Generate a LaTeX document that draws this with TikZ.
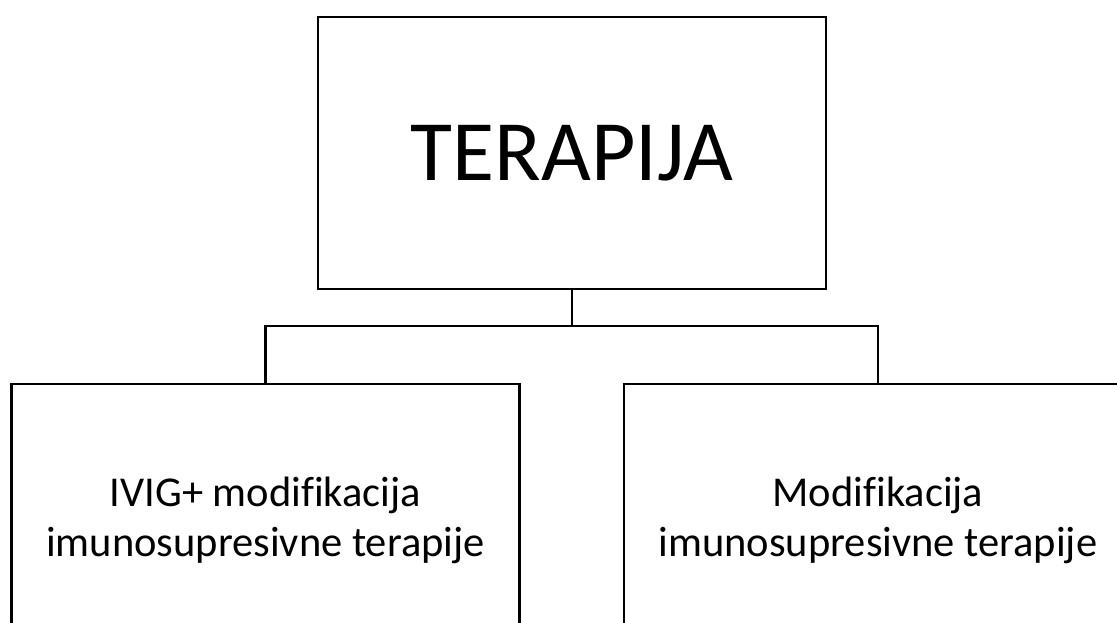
\documentclass[tikz,border=0pt]{standalone}
\usepackage{fontspec}
\setmainfont[Ligatures=NoCommon]{Carlito}
\usetikzlibrary{positioning}
\def\boxwidth{508pt}
\def\boxheight{272pt}

\begin{document}
\begin{tikzpicture}[x=1pt, y=-1pt, line width=2.5pt,
                    box/.style={draw=black, rectangle, inner sep=0pt,
                                minimum width=\boxwidth, minimum height=\boxheight,
                                align=center},
                    big/.style={font=\fontsize{86}{94}\selectfont},
                    small/.style={font=\fontsize{42.5}{50}\selectfont}]
    \useasboundingbox (0,0) rectangle (1117,623);
    \clip (0,0) rectangle (1117,623);
    \node[box, big] (terapija) at (572,153) {TERAPIJA};
    \node[box, small] (ivig) at (265.5,520) {IVIG+ modifikacija\\imunosupresivne terapije};
    \node[box, small] (modif) at (878,520) {Modifikacija\\imunosupresivne terapije};
    \coordinate (split) at (572,326);
    %
    \draw[line join=miter] (terapija.south) -- (split) -| (ivig.north);
    \draw[line join=miter] (split) -| (modif.north);
  \end{tikzpicture}
\end{document}
